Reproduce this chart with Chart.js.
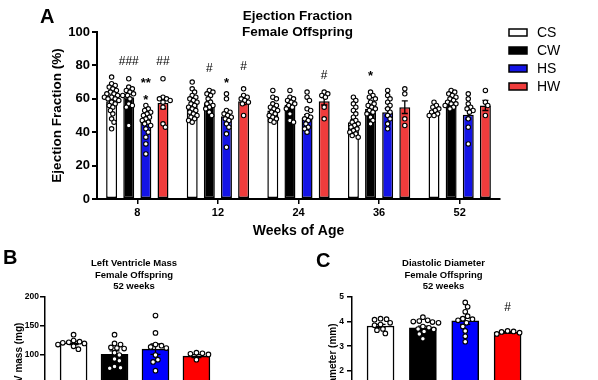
<!DOCTYPE html>
<html lang="en">
<head>
<meta charset="UTF-8">
<title>Ejection Fraction - Female Offspring</title>
<script src="https://cdn.jsdelivr.net/npm/chart.js@4"></script>
<style>
    html, body { margin: 0; padding: 0; background: #fff; overflow: hidden; }
    body { width: 598px; height: 380px; position: relative; font-family: Arial, 'Liberation Sans', sans-serif; }
    canvas { position: absolute; }
    .letter { position: absolute; font-weight: bold; font-size: 20px; line-height: 1; color: #000; }
</style>
</head>
<body>
<canvas id="chartA" width="598" height="245" style="left:0;top:0"></canvas>
<canvas id="chartB" width="299" height="200" style="left:0;top:240px"></canvas>
<canvas id="chartC" width="299" height="200" style="left:299px;top:240px"></canvas>
<div class="letter" style="left:40px;top:6px">A</div>
<div class="letter" style="left:3px;top:247px">B</div>
<div class="letter" style="left:316px;top:250px">C</div>

<script>
// ---- Panel A: ejection fraction (%) by week ----
const weeks = ['8', '12', '24', '36', '52'];
const groups = ['CS', 'CW', 'HS', 'HW'];

const efCS = [58.5, 56.5, 53, 46, 51.5];
const efCW = [61, 57.5, 56.5, 54, 58.5];
const efHS = [47.5, 49.5, 48.5, 52, 50.5];
const efHW = [57.5, 58.5, 58.5, 55, 56];

const semCS = [1.4, 1.3, 1.3, 1.5, 1.0];
const semCW = [2.0, 1.7, 1.9, 1.4, 1.0];
const semHS = [1.6, 2.2, 2.0, 2.2, 2.7];
const semHW = [3.5, 2.0, 2.2, 3.8, 3.0];

// individual animals, one list per week
const dotsCS = [
    [73, 69, 68, 67, 66, 65, 64, 63, 63, 62, 61, 61, 60, 60, 59, 58, 57, 56, 55, 53, 51, 48, 46, 42],
    [70, 66, 64, 62, 61, 60, 59, 58, 57, 56, 55, 54, 53, 52, 51, 50, 49, 48, 47, 46],
    [65, 61, 60, 57, 56, 55, 54, 53, 52, 51, 50, 49, 48, 47, 46],
    [61, 59, 57, 55, 53, 51, 49, 47, 46, 45, 44, 43, 42, 41, 40, 39, 38, 37],
    [58, 56, 55, 54, 53, 52, 51, 50, 50]
];
const dotsCW = [
    [72, 67, 66, 65, 64, 63, 62, 62, 60, 57, 56, 55, 44],
    [65, 64, 63, 62, 60, 58, 57, 56, 55, 54, 52, 50],
    [65, 61, 60, 59, 58, 57, 56, 55, 54, 51, 47, 46],
    [64, 62, 61, 60, 58, 57, 56, 55, 54, 53, 52, 51, 49, 47, 45],
    [65, 64, 63, 62, 61, 60, 59, 58, 57, 57, 56, 55, 54]
];
const dotsHS = [
    [56, 54, 53, 52, 51, 50, 49, 48, 47, 46, 45, 44, 42, 40, 37, 33, 27],
    [63, 60, 53, 52, 51, 50, 49, 48, 47, 45, 43, 39, 31],
    [64, 61, 59, 54, 53, 50, 49, 48, 47, 45, 43, 42, 40],
    [65, 62, 60, 58, 56, 54, 52, 50, 48, 45, 42],
    [63, 60, 57, 55, 54, 53, 52, 48, 43, 33]
];
const dotsHW = [
    [72, 61, 60, 60, 59, 58, 55, 45, 43],
    [66, 62, 61, 60, 59, 58, 57, 50],
    [64, 63, 62, 61, 55, 48],
    [66, 63, 48, 44],
    [65, 58, 56, 50]
];

// [week index, group index, text, level in %]
const sigA = [
    [0, 1, '###', 82], [0, 3, '##', 82], [0, 2, '**', 71], [0, 2, '*', 61],
    [1, 1, '#', 78], [1, 2, '*', 71], [1, 3, '#', 79],
    [2, 3, '#', 74], [3, 1, '*', 75]
];

// ---- Panel B: LV mass (mg), 52 weeks ----
const lvMass = [121, 101, 110, 98];
const lvSem = [3, 6, 9, 2.5];
const lvDots = [
    [135, 125, 123, 122, 121, 120, 118, 115, 110],
    [135, 120, 118, 113, 112, 111, 104, 100, 93, 90, 80, 78, 77],
    [168, 138, 118, 116, 114, 112, 100, 92, 88, 73],
    [104, 103, 102, 101, 92]
];

// ---- Panel C: diastolic diameter (mm), 52 weeks ----
const ddMean = [3.82, 3.75, 4.03, 3.56];
const ddSem = [0.07, 0.07, 0.14, 0.03];
const ddDots = [
    [4.12, 4.10, 4.08, 3.95, 3.88, 3.85, 3.70, 3.65, 3.52],
    [4.18, 4.05, 4.02, 4.00, 3.98, 3.95, 3.80, 3.75, 3.70, 3.68, 3.60, 3.50, 3.30],
    [4.78, 4.60, 4.40, 4.22, 4.12, 4.10, 4.05, 3.95, 3.80, 3.62, 3.40, 3.18],
    [3.62, 3.60, 3.58, 3.55, 3.50]
];
const sigC = [[3, 0, '#', 4.57]];

const FONT = "Arial, 'Liberation Sans', sans-serif";
const colorsA = ['#ffffff', '#000000', '#1414e6', '#f03c3c'];
const colorsBC = ['#ffffff', '#000000', '#0000ff', '#ff0000'];

Chart.defaults.font.family = FONT;
Chart.defaults.color = '#000';
Chart.defaults.animation = false;

// simple deterministic beeswarm: returns x offsets for a list of pixel ys
function swarm(ys, gap) {
    const placed = [];
    ys.forEach(y => {
        for (let k = 0; k < 80; k++) {
            const dx = (k % 2 ? 1 : -1) * Math.ceil(k / 2) * 1.2;
            if (placed.every(p => Math.hypot(p.dx - dx, p.y - y) >= gap)) {
                placed.push({ dx, y });
                break;
            }
        }
    });
    return placed;
}

// error bars, scatter dots, significance marks, titles, legend
const extras = {
    id: 'extras',
    afterDatasetsDraw(chart, args, o) {
        const ctx = chart.ctx;
        const ca = chart.chartArea;
        const ys = chart.scales.y;
        ctx.save();
        chart.data.datasets.forEach((ds, di) => {
            const meta = chart.getDatasetMeta(di);
            meta.data.forEach((bar, i) => {
                const v = meta.controller.getParsed(i).y;
                const s = o.sem[di][i];
                const x = bar.x;
                const yT = ys.getPixelForValue(v + s);
                const yB = ys.getPixelForValue(v - s);
                ctx.strokeStyle = '#000';
                ctx.lineWidth = 1.3;
                ctx.beginPath();
                ctx.moveTo(x, yT); ctx.lineTo(x, yB);
                ctx.moveTo(x - o.cap / 2, yT); ctx.lineTo(x + o.cap / 2, yT);
                ctx.moveTo(x - o.cap / 2, yB); ctx.lineTo(x + o.cap / 2, yB);
                ctx.stroke();

                const pts = swarm(o.dots[di][i].map(d => ys.getPixelForValue(d)), o.gap);
                ctx.fillStyle = '#fff';
                ctx.lineWidth = 1.1;
                pts.forEach(p => {
                    ctx.beginPath();
                    ctx.arc(x + p.dx, p.y, o.r, 0, Math.PI * 2);
                    ctx.fill();
                    ctx.stroke();
                });
            });
        });

        ctx.fillStyle = '#000';
        ctx.textAlign = 'center';
        ctx.textBaseline = 'middle';
        (o.sig || []).forEach(([ci, di, txt, lvl]) => {
            const x = chart.getDatasetMeta(di).data[ci].x;
            const y = ys.getPixelForValue(lvl);
            if (txt[0] === '*') {
                ctx.font = 'bold 13px ' + FONT;
                ctx.fillText(txt, x, y + 3);
            } else {
                ctx.font = o.sigFont + ' ' + FONT;
                ctx.fillText(txt, x, y);
            }
        });

        ctx.font = o.titleFont + ' ' + FONT;
        o.title.forEach((t, k) => {
            ctx.fillText(t, (ca.left + ca.right) / 2 + o.titleDx, o.titleTop + k * o.titleStep);
        });

        if (o.legend) {
            const L = o.legend;
            ctx.textAlign = 'left';
            ctx.font = '14px ' + FONT;
            chart.data.datasets.forEach((ds, k) => {
                const y = L.y + k * L.step;
                ctx.fillStyle = ds.backgroundColor;
                ctx.fillRect(L.x, y, 18, 7);
                ctx.strokeStyle = '#000';
                ctx.lineWidth = 1.5;
                ctx.strokeRect(L.x, y, 18, 7);
                ctx.fillStyle = '#000';
                ctx.fillText(ds.label, L.x + 28, y + 4);
            });
        }
        ctx.restore();
    }
};

function yAxis(opts) {
    return {
        min: opts.min, max: opts.max,
        ticks: { stepSize: opts.step, color: '#000', padding: opts.tickPad, font: { size: opts.tickSize, weight: 'bold' } },
        grid: { drawOnChartArea: false, drawTicks: true, tickLength: 5, color: '#000', lineWidth: opts.lw },
        border: { display: true, color: '#000', width: opts.lw },
        title: { display: true, text: opts.title, color: '#000', padding: { top: opts.titlePad, bottom: 0 }, font: { size: opts.titleSize, weight: 'bold' } },
        afterFit: s => { s.width = opts.width; }
    };
}

new Chart(document.getElementById('chartA'), {
    type: 'bar',
    data: {
        labels: weeks,
        datasets: [efCS, efCW, efHS, efHW].map((d, gi) => ({
            label: groups[gi],
            data: d,
            backgroundColor: colorsA[gi],
            borderColor: '#000',
            borderWidth: 1.5,
            borderSkipped: false,
            categoryPercentage: 0.85,
            barPercentage: 0.64
        }))
    },
    options: {
        responsive: false,
        layout: { padding: { left: 40, top: 32, right: 98, bottom: 0 } },
        plugins: {
            legend: { display: false },
            tooltip: { enabled: false },
            extras: {
                sem: [semCS, semCW, semHS, semHW],
                dots: [dotsCS, dotsCW, dotsHS, dotsHW],
                r: 2.2, gap: 3.7, cap: 6,
                sig: sigA, sigFont: '12px',
                title: ['Ejection Fraction', 'Female Offspring'],
                titleFont: 'bold 13.5px', titleTop: 16, titleStep: 16, titleDx: -1,
                legend: { x: 509, y: 29, step: 18 }
            }
        },
        scales: {
            x: {
                grid: { drawOnChartArea: false, drawTicks: true, tickLength: 5, color: '#000', lineWidth: 1.5, offset: false },
                border: { display: true, color: '#000', width: 2 },
                ticks: { color: '#000', padding: 2, font: { size: 11, weight: 'bold' } },
                title: { display: true, text: 'Weeks of Age', color: '#000', padding: { top: 0, bottom: 5.6 }, font: { size: 14, weight: 'bold' } },
                afterFit: s => { s.height = 46; }
            },
            y: yAxis({ min: 0, max: 100, step: 20, tickPad: 2, tickSize: 13, lw: 2, title: 'Ejection Fraction (%)', titlePad: 9, titleSize: 13.5, width: 57 })
        }
    },
    plugins: [extras]
});

function smallPanel(id, values, sem, dots, sig, title, yOpts, xMin, pad) {
    new Chart(document.getElementById(id), {
        type: 'bar',
        data: {
            datasets: [{
                label: title[0],
                data: values.map((v, i) => ({ x: i + 1, y: v })),
                backgroundColor: colorsBC,
                borderColor: '#000',
                borderWidth: 1.5,
                borderSkipped: false,
                barThickness: 27
            }]
        },
        options: {
            responsive: false,
            layout: { padding: pad },
            plugins: {
                legend: { display: false },
                tooltip: { enabled: false },
                extras: {
                    sem: [sem], dots: [dots], r: 2.3, gap: 5, cap: 10,
                    sig: sig, sigFont: '12px',
                    title: title, titleFont: 'bold 9.5px', titleTop: 23.5, titleStep: 11.5, titleDx: 1
                }
            },
            scales: {
                x: {
                    type: 'linear', display: false, bounds: 'data', offset: false,
                    min: xMin, max: 4.6,
                    grid: { offset: false },
                    ticks: { stepSize: 1, includeBounds: false }
                },
                y: yAxis(yOpts)
            }
        },
        plugins: [extras]
    });
}

smallPanel('chartB', lvMass, lvSem, lvDots, [], ['Left Ventricle Mass', 'Female Offspring', '52 weeks'],
    { min: 0, max: 200, step: 50, tickPad: 1, tickSize: 8.5, lw: 1.5, title: 'LV mass (mg)', titlePad: 13, titleSize: 10, width: 45 },
    0.302, { left: 0, top: 57, right: 78, bottom: 27 });

smallPanel('chartC', ddMean, ddSem, ddDots, sigC, ['Diastolic Diameter', 'Female Offspring', '52 weeks'],
    { min: 0, max: 5, step: 1, tickPad: 3, tickSize: 8.5, lw: 1.5, title: 'Diameter (mm)', titlePad: 28, titleSize: 10, width: 53 },
    0.326, { left: 0, top: 57, right: 65, bottom: 20 });
</script>
</body>
</html>
